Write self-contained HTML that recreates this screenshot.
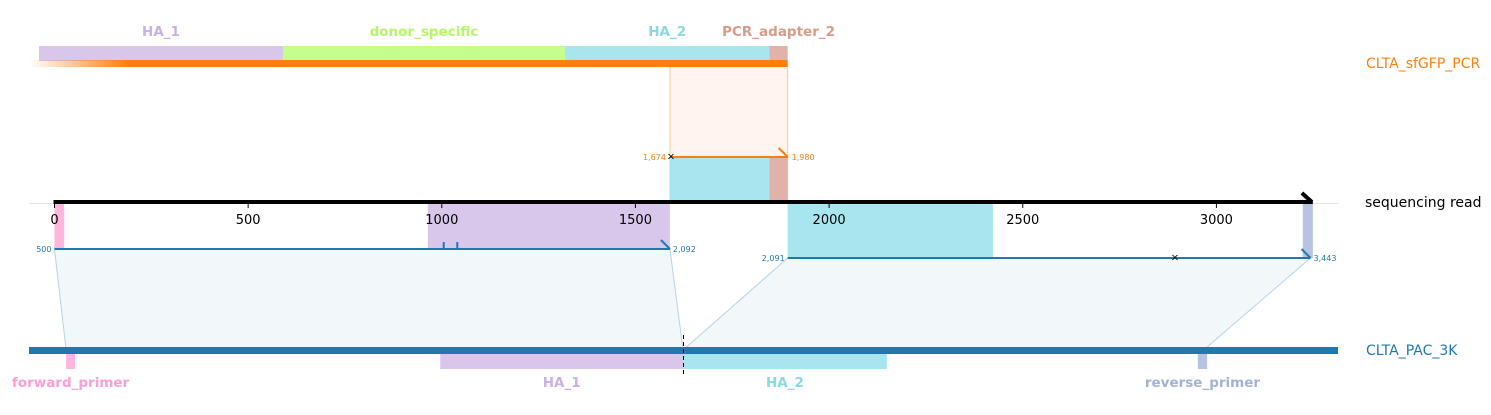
<!DOCTYPE html>
<html><head><meta charset="utf-8"><style>
html,body{margin:0;padding:0;background:#fff;}
svg{display:block;font-family:"DejaVu Sans","Liberation Sans",sans-serif;}
</style></head><body>
<svg id="c" width="1491" height="415" viewBox="0 0 1491 415"></svg>
<script>
// read coordinate units (bp along sequencing read)
const tickValues=[0,500,1000,1500,2000,2500,3000];
const readLength=3249;
const readFeatStart=[0,964,1893,3223];
const readFeatEnd=[25,1589,2423,3249];
const readFeatColor=["#ffb6db","#d8c6eb","#a8e6ef","#b7c3e0"];
const readFeatName=["forward-primer","ha-1","ha-2","reverse-primer"];
// top construct features (in read units)
const topNames=["HA_1","donor_specific","HA_2","PCR_adapter_2"];
const topStart=[-40,590,1318,1846];
const topEnd=[590,1318,1846,1893];
const topColors=["#d8c6eb","#c6fe8c","#a8e6ef","#e1b3a8"];
const topLabelColors=["#c8b1e6","#b6f76a","#8ad8e6","#d99c88"];
// bottom construct features (in read units)
const botNames=["forward_primer","HA_1","HA_2","reverse_primer"];
const botStart=[30,996,1623,2952];
const botEnd=[53,1623,2149,2976];
const botColors=["#ffb6db","#d8c6eb","#a8e6ef","#b7c3e0"];
const botLabelColors=["#ff9ed2","#c8b1e6","#8ad8e6","#a5b2d6"];
// alignment segments
const segReadStart=[0,1893];
const segReadEnd=[1589,3243];
const segLabelStart=["500","2,091"];
const segLabelEnd=["2,092","3,443"];
const segBotStart=[30,1623];
const segBotEnd=[1623,2967];

const X=v=>54.5+v*0.3873;
const svg=document.getElementById('c');
const NS='http://www.w3.org/2000/svg';
function mk(t,a,txt){const e=document.createElementNS(NS,t);for(const k in a)e.setAttribute(k,a[k]);if(txt!==undefined)e.textContent=txt;svg.appendChild(e);return e;}

const defs=document.createElementNS(NS,'defs');
defs.innerHTML='<linearGradient id="fade" x1="0" x2="1"><stop offset="0" stop-color="#ff7f0e" stop-opacity="0"/><stop offset="0.13" stop-color="#ff7f0e" stop-opacity="1"/><stop offset="1" stop-color="#ff7f0e"/></linearGradient>';
svg.appendChild(defs);

let e=mk('rect',{x:X(1589),y:64,width:X(1893)-X(1589),height:138,fill:'#fff5ee',stroke:'#ffc999','stroke-width':1});



for(let i=0;i<topNames.length;i++){
  e=mk('rect',{x:X(topStart[i]),y:46,width:X(topEnd[i])-X(topStart[i]),height:15,fill:topColors[i]});
  
  
  e=mk('text',{x:(X(topStart[i])+X(topEnd[i]))/2,y:36,'text-anchor':'middle','font-size':13.5,'font-weight':'bold',fill:topLabelColors[i]},topNames[i]);
  
  
}
e=mk('rect',{x:X(-66),y:60,width:X(1893)-X(-66),height:7,fill:'url(#fade)'});


e=mk('text',{x:1366,y:68,'font-size':14,fill:'#ff7f0e'},'CLTA_sfGFP_PCR');



e=mk('rect',{x:X(1589),y:157,width:X(1846)-X(1589),height:45,fill:'#a8e6ef'});


e=mk('rect',{x:X(1846),y:157,width:X(1893)-X(1846),height:45,fill:'#e1b3a8'});


e=mk('line',{x1:X(1589),y1:157,x2:X(1893),y2:157,stroke:'#ff7f0e','stroke-width':2});


e=mk('path',{d:`M${X(1893)-9} 148 L${X(1893)} 157`,stroke:'#ff7f0e','stroke-width':2,fill:'none'});


e=mk('text',{x:X(1589)+1,y:157,'text-anchor':'middle','dominant-baseline':'central','font-size':10},'×');


e=mk('text',{x:X(1589)-4,y:160,'text-anchor':'end','font-size':8,fill:'#ff7f0e'},'1,674');


e=mk('text',{x:X(1893)+4,y:160,'font-size':8,fill:'#ff7f0e'},'1,980');



for(let i=0;i<readFeatStart.length;i++){
  e=mk('rect',{x:X(readFeatStart[i]),y:203,width:X(readFeatEnd[i])-X(readFeatStart[i]),height:(i<2)?46:55,fill:readFeatColor[i]});
  
  
}

for(let i=0;i<segReadStart.length;i++){
  const y=i==0?249:258;
  e=mk('polygon',{points:`${X(segReadStart[i])},${y} ${X(segReadEnd[i])},${y} ${X(segBotEnd[i])},350 ${X(segBotStart[i])},350`,fill:'#f2f7fa',stroke:'#b5d3e8','stroke-width':1});
  
  
  e=mk('line',{x1:X(segReadStart[i]),y1:y,x2:X(segReadEnd[i]),y2:y,stroke:'#1f77b4','stroke-width':2});
  
  
  e=mk('path',{d:`M${X(segReadEnd[i])-9} ${y-9} L${X(segReadEnd[i])} ${y}`,stroke:'#1f77b4','stroke-width':2,fill:'none'});
  
  
  e=mk('text',{x:X(segReadStart[i])-3,y:y+3,'text-anchor':'end','font-size':8,fill:'#1f77b4'},segLabelStart[i]);
  
  
  e=mk('text',{x:X(segReadEnd[i])+3,y:y+3,'font-size':8,fill:'#1f77b4'},segLabelEnd[i]);
  
  
}
[1005,1040].forEach(v=>{
  e=mk('line',{x1:X(v),y1:242,x2:X(v),y2:249,stroke:'#1f77b4','stroke-width':2});
  
  
});
e=mk('text',{x:X(2893),y:258,'text-anchor':'middle','dominant-baseline':'central','font-size':10},'×');



e=mk('line',{x1:29,y1:203.5,x2:1338,y2:203.5,stroke:'#e5e5e5','stroke-width':1});


e=mk('line',{x1:X(0)-1,y1:202,x2:X(readLength),y2:202,stroke:'#000','stroke-width':4});


e=mk('path',{d:`M${X(readLength)-11} 193 L${X(readLength)-1} 202`,stroke:'#000','stroke-width':4,fill:'none'});


tickValues.forEach(v=>{
  e=mk('line',{x1:X(v),y1:204,x2:X(v),y2:208,stroke:'#000','stroke-width':1});
  
  
  e=mk('text',{x:X(v),y:224,'text-anchor':'middle','font-size':13,fill:'#000'},String(v));
  
  
});
e=mk('text',{x:1365,y:207,'font-size':14,fill:'#000'},'sequencing read');



for(let i=0;i<botNames.length;i++){
  e=mk('rect',{x:X(botStart[i]),y:350,width:X(botEnd[i])-X(botStart[i]),height:19,fill:botColors[i]});
  
  
  e=mk('text',{x:(X(botStart[i])+X(botEnd[i]))/2,y:387,'text-anchor':'middle','font-size':13.5,'font-weight':'bold',fill:botLabelColors[i]},botNames[i]);
  
  
}
e=mk('rect',{x:29,y:347,width:1309,height:7,fill:'#1f77b4'});


e=mk('line',{x1:683.5,y1:335,x2:683.5,y2:375,stroke:'#000','stroke-width':1,'stroke-dasharray':'4,3'});


e=mk('text',{x:1366,y:355,'font-size':14,fill:'#1f77b4'},'CLTA_PAC_3K');


</script>
</body></html>
